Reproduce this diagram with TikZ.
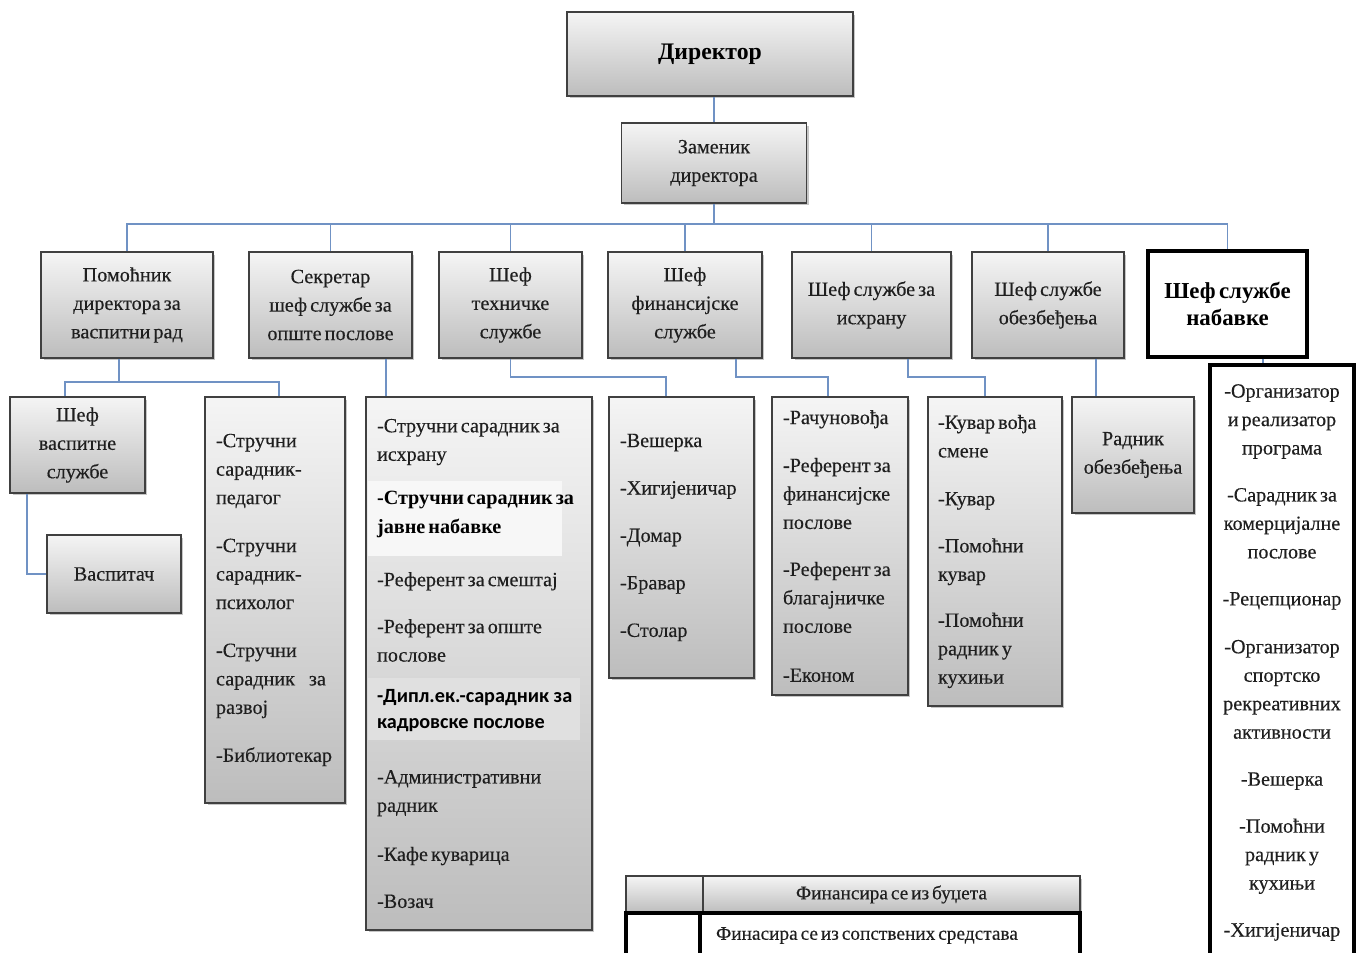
\documentclass[tikz,border=0pt]{standalone}
\usepackage{fontspec}
\setmainfont{Liberation Serif}[WordSpace=0.6, UprightFeatures={FakeBold=0.3}]
\newfontfamily\calibrifont{Carlito}
\usetikzlibrary{positioning,shadows}

\definecolor{linkblue}{RGB}{112,146,196}
\definecolor{boxline}{RGB}{64,64,64}

\tikzset{
  greybox/.style={rectangle, draw=boxline, line width=1pt, top color=black!4, bottom color=black!26,
    drop shadow={shadow xshift=0.05cm, shadow yshift=-0.05cm, opacity=0.45},
    text=black!88, font=\fontsize{11.5}{16.2}\selectfont, align=center, inner sep=0pt},
  lvltwo/.style={greybox, minimum height=2.12cm},
  listbox/.style={greybox, align=flush left},
  whitebox/.style={rectangle, draw=black, line width=1.8pt, fill=white, text=black!88,
    font=\fontsize{11.5}{16.2}\selectfont, align=center, inner sep=0pt},
  conn/.style={draw=linkblue, line width=1.1pt},
}

\begin{document}
\begin{tikzpicture}[x=0.02cm, y=-0.02cm]
	\useasboundingbox (0,0) rectangle (1357,953);
	% top of the chart
	\node[greybox, minimum width=5.72cm, minimum height=1.68cm, text=black, font=\fontsize{13.5}{16}\selectfont\bfseries] (dir) at (710,54) {Директор};
	\node[greybox, minimum width=3.70cm, minimum height=1.60cm] (zam) at (714,163) {Заменик\\директора};
	\coordinate (bus) at (714,224);
	\draw[conn] (zam.north) -- (zam.north |- dir.south);
	\draw[conn] (zam.south) -- (zam.south |- bus);

	% services
	\node[lvltwo, minimum width=3.44cm] (pom) at (127,305) {Помоћник\\директора за\\васпитни рад};
	\node[lvltwo, minimum width=3.26cm] (sek) at (330.5,305) {Секретар\\шеф службе за\\опште послове};
	\node[lvltwo, minimum width=2.86cm] (teh) at (510.5,305) {Шеф\\техничке\\службе};
	\node[lvltwo, minimum width=3.08cm] (fin) at (685,305) {Шеф\\финансијске\\службе};
	\node[lvltwo, minimum width=3.18cm] (ish) at (871.5,305) {Шеф службе за\\исхрану};
	\node[lvltwo, minimum width=3.04cm] (obe) at (1048,305) {Шеф службе\\обезбеђења};
	\node[whitebox, minimum width=3.18cm, minimum height=2.12cm, text=black, font=\fontsize{13}{15.5}\selectfont\bfseries] (nab) at (1227.5,304) {Шеф службе\\набавке};
	\draw[conn] (pom.north) -- (pom.north |- bus) -- (nab.north |- bus) -- (nab.north);
	\foreach \n in {sek,teh,fin,ish,obe}
		\draw[conn] (\n.north) -- (\n.north |- bus);

	% staff
	\node[greybox, minimum width=2.70cm, minimum height=1.92cm] (svs) at (77.5,445) {Шеф\\васпитне\\службе};
	\node[greybox, minimum width=2.68cm, minimum height=1.56cm] (vas) at (114,574) {Васпитач};
	\node[listbox, minimum width=2.80cm, minimum height=8.12cm, text width=2.36cm] (lpom) at (275,600)
		{-Стручни\\сарадник-\\педагог\\[0.39cm]-Стручни\\сарадник-\\психолог\\[0.39cm]-Стручни\\сарадник\hspace{0.28cm}за\\развој\\[0.39cm]-Библиотекар};
	\node[greybox, minimum width=4.52cm, minimum height=10.66cm] (lsek) at (479,663.5) {};
	\fill[black!3] (368,481) rectangle (562,556);
	\fill[black!12] (368,678) rectangle (580,740);
	\node[text=black!88, font=\fontsize{11.5}{16.2}\selectfont, align=flush left, text width=4.3cm, inner sep=0pt] (lsektext) at ([xshift=0.11cm]lsek.center)
		{-Стручни сарадник за\\исхрану\\[0.31cm]
		{\bfseries\color{black}-Стручни сарадник за}\\{\bfseries\color{black}јавне набавке}\\[0.49cm]
		-Референт за смештај\\[0.37cm]
		-Референт за опште\\послове\\[0.25cm]
		{\calibrifont\bfseries\color{black}-Дипл.ек.-сарадник за}\\[-0.05cm]{\calibrifont\bfseries\color{black}кадровске послове}\\[0.53cm]
		-Административни\\радник\\[0.41cm]
		-Кафе куварица\\[0.37cm]
		-Возач};
	\node[listbox, minimum width=2.90cm, minimum height=5.62cm, text width=2.46cm] (lteh) at (681.5,537.5)
		{-Вешерка\\[0.38cm]-Хигијеничар\\[0.38cm]-Домар\\[0.38cm]-Бравар\\[0.38cm]-Столар};
	\node[listbox, minimum width=2.72cm, minimum height=5.96cm, text width=2.28cm] (lfin) at (840,546)
		{-Рачуновођа\\[0.39cm]-Референт за\\финансијске\\послове\\[0.37cm]-Референт за\\благајничке\\послове\\[0.41cm]-Економ};
	\node[listbox, minimum width=2.68cm, minimum height=6.18cm, text width=2.28cm] (lish) at (995,551.5)
		{-Кувар вођа\\смене\\[0.39cm]-Кувар\\[0.37cm]-Помоћни\\кувар\\[0.35cm]-Помоћни\\радник у\\кухињи};
	\node[greybox, minimum width=2.44cm, minimum height=2.32cm] (rob) at (1133,455) {Радник\\обезбеђења};
	\node[whitebox, minimum width=2.88cm, minimum height=11.9cm] (lnab) at (1282,662.5)
		{-Организатор\\и реализатор\\програма\\[0.37cm]-Сарадник за\\комерцијалне\\послове\\[0.37cm]-Рецепционар\\[0.39cm]-Организатор\\спортско\\рекреативних\\активности\\[0.37cm]-Вешерка\\[0.37cm]-Помоћни\\радник у\\кухињи\\[0.37cm]-Хигијеничар};

	\draw[conn] ([xshift=-0.16cm]pom.south) -- ++(0,23) coordinate (pomjoin);
	\draw[conn] ([xshift=-0.25cm]svs.north) |- (pomjoin) -| ([xshift=0.08cm]lpom.north);
	\draw[conn] ([xshift=-1.01cm]svs.south) |- (vas.west);
	\draw[conn] ([xshift=1.11cm]sek.south) -- ([xshift=1.11cm]sek.south |- lsek.north);
	\draw[conn] (teh.south) -- ++(0,18) -| ([xshift=-0.31cm]lteh.north);
	\draw[conn] ([xshift=1.02cm]fin.south) -- ++(0,18) -| ([xshift=-0.24cm]lfin.north);
	\draw[conn] ([xshift=0.73cm]ish.south) -- ++(0,18) -| ([xshift=-0.2cm]lish.north);
	\draw[conn] ([xshift=0.96cm]obe.south) -- ([xshift=0.96cm]obe.south |- rob.north);
	\draw[conn] ([xshift=0.71cm]nab.south) -- ([xshift=0.71cm]nab.south |- lnab.north);

	% legend
	\node[greybox, minimum width=1.54cm, minimum height=0.74cm] (budleft) at (664.5,894.5) {};
	\node[greybox, minimum width=7.54cm, minimum height=0.74cm, font=\fontsize{11}{13}\selectfont] (budright) at (891.5,894.5) {Финансира се из буџета};
	\node[whitebox, minimum width=1.48cm, minimum height=0.90cm] (ownleft) at (663,935.5) {};
	\node[whitebox, minimum width=7.60cm, minimum height=0.90cm, text width=6.96cm, align=flush left, font=\fontsize{11}{13}\selectfont] (ownright) at (890,935.5) {Финасира се из сопствених средстава};
\end{tikzpicture}
\end{document}
